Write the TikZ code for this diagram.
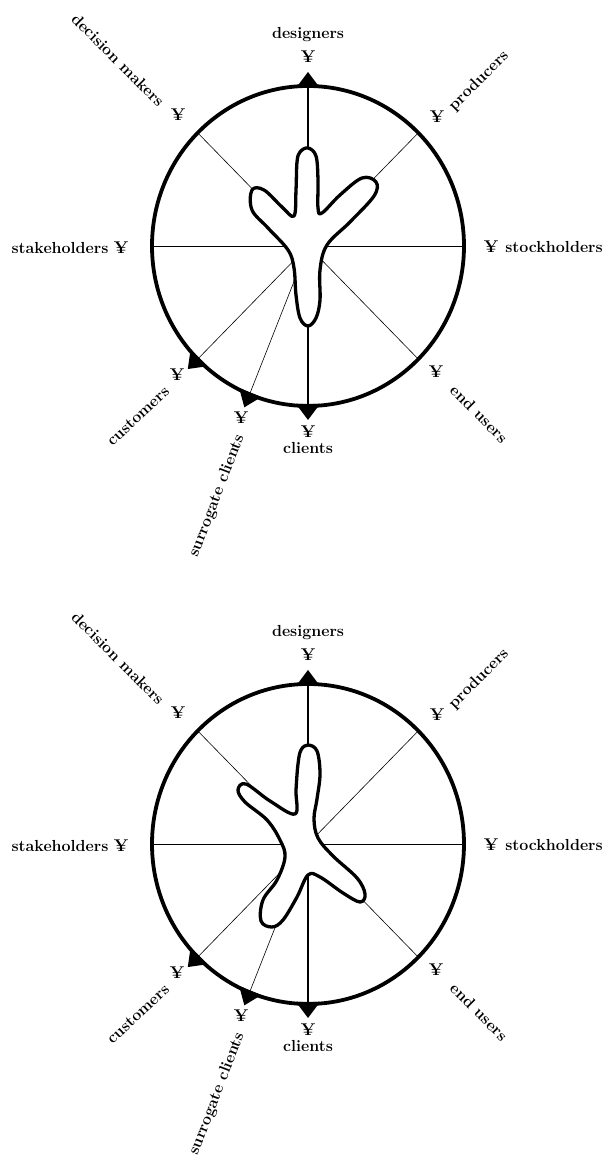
\documentclass[tikz,border=0pt]{standalone}
\usetikzlibrary{positioning}
\begin{document}
\begin{tikzpicture}[x=1pt,y=1pt,
    rim/.style={line width=3.8pt},
    spoke/.style={line width=0.6pt},
    mainspoke/.style={line width=1.3pt},
    marker/.style={fill=black},
    blob/.style={line width=3.3pt,fill=white,line join=round},
    lbl/.style={font=\fontsize{16}{18}\selectfont\bfseries,inner sep=0pt},
    yen/.style={font=\fontsize{17}{18}\selectfont\bfseries,inner sep=0pt}]
  \useasboundingbox (0,0) rectangle (610,1162);
  % the two wheels
  \foreach \n/\cy in {top/916,bot/318}{
    \begin{scope}[shift={(308,\cy)}]
      % spokes
      \coordinate (hub-\n) at (0,0);
      \foreach \a in {45,0,-45,-112,-135,180,135}
        \draw[spoke] (hub-\n) -- (\a:156 and 160);
      \draw[mainspoke] (hub-\n) -- (90:156 and 160);
      \draw[mainspoke] (hub-\n) -- (-90:156 and 160);
      % rim
      \draw[rim] (hub-\n) ellipse [x radius=156,y radius=160];
      % markers
      \foreach \a in {90,-90,-112,-135}
        \fill[marker,shift={(\a:156 and 160)},rotate=\a] (-2,-12) -- (14,0) -- (-2,12) -- cycle;
      % labels
      \node[lbl] (des-\n) at (0,211) {designers};
      \node[yen] (y-des-\n) at (0,189) {¥};
      \node[lbl,rotate=45] (pro-\n) at (171,165) {producers};
      \node[yen] (y-pro-\n) at (129,129) {¥};
      \node[lbl] (sto-\n) at (246,-1) {stockholders};
      \node[yen] (y-sto-\n) at (183,-1) {¥};
      \node[lbl,rotate=-45] (end-\n) at (171,-168) {end users};
      \node[yen] (y-end-\n) at (128,-126) {¥};
      \node[lbl] (cli-\n) at (0,-202) {clients};
      \node[yen] (y-cli-\n) at (0,-186) {¥};
      \node[lbl,rotate=69] (sur-\n) at (-91,-250) {surrogate clients};
      \node[yen] (y-sur-\n) at (-67,-172) {¥};
      \node[lbl,rotate=43] (cus-\n) at (-170,-170) {customers};
      \node[yen] (y-cus-\n) at (-131,-129) {¥};
      \node[lbl] (sta-\n) at (-248,-2) {stakeholders};
      \node[yen] (y-sta-\n) at (-187,-2) {¥};
      \node[lbl,rotate=-45] (dec-\n) at (-190,186) {decision makers};
      \node[yen] (y-dec-\n) at (-130,131) {¥};
    \end{scope}
  }
  % top blob
  \begin{scope}[shift={(308,916)}]
    \draw[blob] plot[smooth cycle,tension=0.6] coordinates {
      (0,98) (8,90) (10,66) (10,38) (14,33) (32,51) (54,68) (68,64) (66,50)
      (42,24) (19,1) (12,-24) (12,-54) (8,-72) (0,-80) (-8,-72) (-12,-49)
      (-14,-22) (-20,-4) (-40,18) (-56,36) (-56,56) (-44,56) (-26,39)
      (-14,30) (-12,56) (-11,84) (-8,94)};
  \end{scope}
  % bottom blob
  \begin{scope}[shift={(308,318)}]
    \draw[blob] plot[smooth cycle,tension=0.6] coordinates {
      (0,99) (9,93) (12,70) (9,45) (6,25) (10,6) (25,-12) (49,-34) (57,-50)
      (52,-58) (35,-49) (12,-33) (0,-31) (-11,-53) (-25,-76) (-36,-83)
      (-47,-77) (-45,-56) (-31,-36) (-23,-13) (-28,4) (-41,24) (-63,42)
      (-70,54) (-62,60) (-38,43) (-13,30) (-12,54) (-10,80) (-7,94)};
  \end{scope}
\end{tikzpicture}
\end{document}
